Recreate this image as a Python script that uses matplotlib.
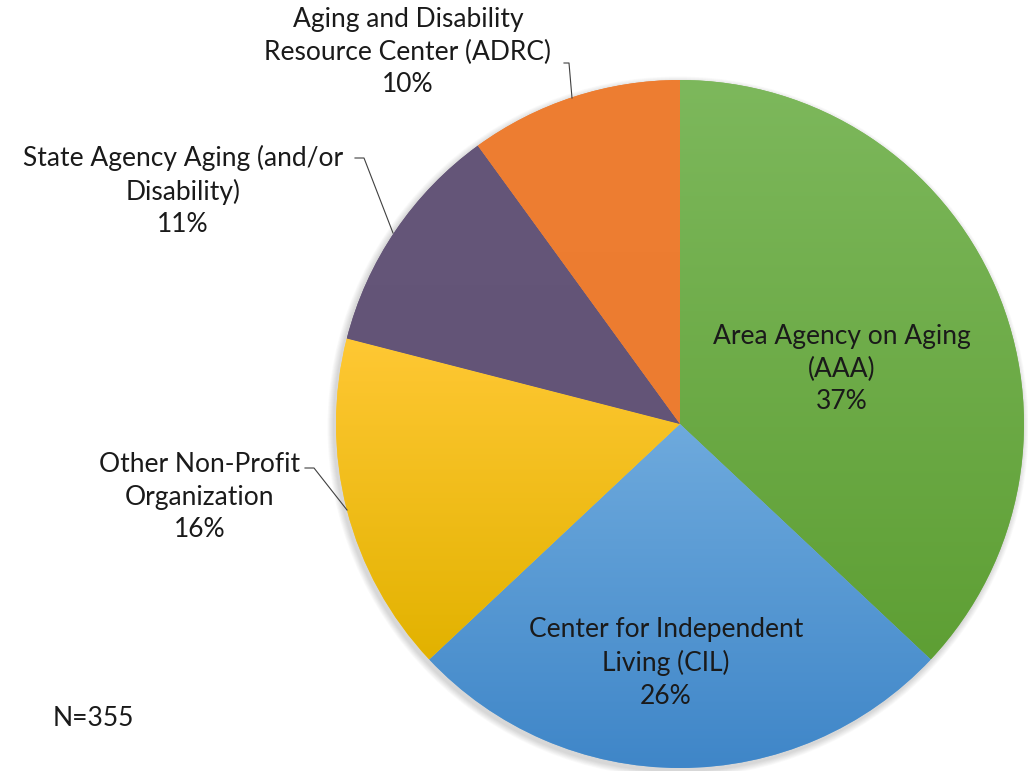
import numpy as np
import matplotlib.pyplot as plt
import matplotlib.colors as mcolors

# data
labels = ["Area Agency on Aging\n(AAA)", "Center for Independent\nLiving (CIL)",
          "Other Non-Profit\nOrganization", "State Agency Aging (and/or\nDisability)",
          "Aging and Disability\nResource Center (ADRC)"]
shares = [37, 26, 16, 11, 10]
n_total = "N=355"

# gradient colours per slice, top -> bottom
top_colors = ["#7db85c", "#6eaadd", "#ffc834", "#655679", "#ee7e32"]
bottom_colors = ["#5e9f34", "#3f86c8", "#e2b200", "#635477", "#ec7c30"]

W, H = 1028, 771
fig = plt.figure(figsize=(W / 100, H / 100), dpi=100)
ax = fig.add_axes([0, 0, 1, 1])

cx, cy, r = 680, H - 424, 344

def py(y):  # pixel row (from top) -> axis y
    return H - y

# soft shadow behind the pie
for k in range(8):
    circ = plt.Circle((cx - 2, cy - 3), r + 1 + k * 0.8, color="black", alpha=0.018, lw=0, zorder=0)
    ax.add_patch(circ)

wedges, _ = ax.pie(shares, startangle=90, counterclock=False, center=(cx, cy), radius=r,
                   colors=top_colors, wedgeprops=dict(linewidth=0), frame=True)
ax.set_xlim(0, W)
ax.set_ylim(0, H)
ax.set_aspect("equal")
ax.axis("off")

for w, c0, c1 in zip(wedges, top_colors, bottom_colors):
    ext = w.get_path().get_extents()
    cmap = mcolors.LinearSegmentedColormap.from_list("g", [c1, c0])
    grad = np.linspace(0, 1, 256).reshape(-1, 1)
    im = ax.imshow(grad, cmap=cmap, origin="lower", aspect="auto",
                   extent=(ext.x0, ext.x1, ext.y0, ext.y1), zorder=2)
    im.set_clip_path(w)

font = dict(family="Lato", fontsize=19, color="#1a1a1a", ha="center", va="center",
            linespacing=1.38, zorder=5)

pct = [f"{s}%" for s in shares]
# inside labels
ax.text(842, py(369), labels[0] + "\n" + pct[0], **font)
ax.text(666, py(663), labels[1] + "\n" + pct[1], **font)
# outside labels
ax.text(200, py(497), labels[2] + "\n" + pct[2], **font)
ax.text(183, py(191), labels[3] + "\n" + pct[3], **font)
ax.text(408, py(52), labels[4] + "\n" + pct[4], **font)

# leader lines
lc = dict(color="#404040", lw=0.8, zorder=4)
ax.plot([305, 314, 347], [py(468), py(468), py(510)], **lc)
ax.plot([355, 364, 393], [py(158), py(158), py(233)], **lc)
ax.plot([564, 569, 572], [py(63), py(63), py(98)], **lc)

ax.text(53, py(718), n_total, family="Lato", fontsize=19, color="#1a1a1a", ha="left", va="center")

fig.savefig("out.png", dpi=100)
